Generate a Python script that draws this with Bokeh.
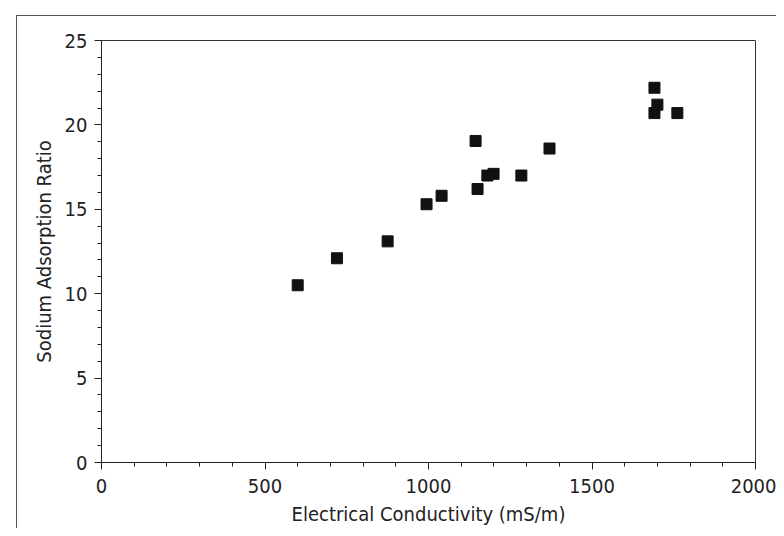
from bokeh.plotting import figure
from bokeh.models import Range1d, SingleIntervalTicker
from bokeh.embed import file_html
from bokeh.resources import INLINE

conductivity = [600, 720, 875, 994, 1040, 1144, 1150, 1180, 1199, 1284, 1370, 1691, 1691, 1700, 1761]
sar = [10.5, 12.1, 13.1, 15.3, 15.8, 19.05, 16.2, 17.0, 17.1, 17.0, 18.6, 22.2, 20.7, 21.2, 20.7]

x_label = "Electrical Conductivity (mS/m)"
y_label = "Sodium Adsorption Ratio"

FONT = "DejaVu Sans Condensed"

p = figure(width=776, height=528, output_backend="svg", toolbar_location=None,
           x_range=Range1d(0, 2000), y_range=Range1d(0, 25),
           min_border_left=101, min_border_top=40, min_border_right=21, min_border_bottom=59)

# outer frame lines of the original panel (left and top), drawn behind a transparent border
p.border_fill_color = None
p.styles = {"box-shadow": "inset 16px 15px 0 0 #ffffff, inset 17px 16px 0 0 #555555",
            "background-color": "#ffffff"}

p.grid.visible = False
p.background_fill_color = "#ffffff"
p.outline_line_color = "#333333"
p.outline_line_width = 1

p.xaxis.ticker = SingleIntervalTicker(interval=500, num_minor_ticks=5)
p.yaxis.ticker = SingleIntervalTicker(interval=5, num_minor_ticks=5)

for ax in (p.xaxis, p.yaxis):
    ax.axis_line_color = "#222222"
    ax.major_tick_line_color = "#222222"
    ax.minor_tick_line_color = "#222222"
    ax.major_tick_out = 7
    ax.major_tick_in = 0
    ax.minor_tick_out = 4
    ax.minor_tick_in = 0
    ax.major_label_text_font = FONT
    ax.major_label_text_font_size = "20px"
    ax.major_label_text_color = "#222222"
    ax.axis_label_text_font = FONT
    ax.axis_label_text_font_size = "20px"
    ax.axis_label_text_font_style = "normal"
    ax.axis_label_text_color = "#222222"

p.xaxis.axis_label = x_label
p.yaxis.axis_label = y_label
p.yaxis.major_label_orientation = "horizontal"
p.xaxis.major_label_standoff = 9
p.xaxis.axis_label_standoff = 6
p.yaxis.major_label_standoff = 7
p.yaxis.axis_label_standoff = 6

p.scatter(conductivity, sar, marker="square", size=11, fill_color="#111111", line_color="#111111")

open("out.html", "w").write(file_html(p, INLINE))
